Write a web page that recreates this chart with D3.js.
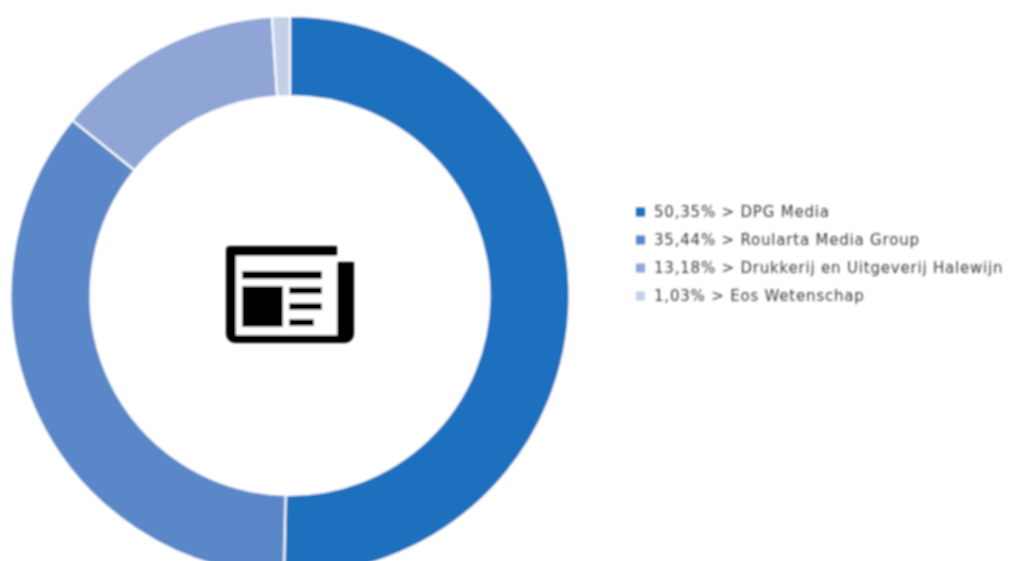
<!DOCTYPE html>
<html><head><meta charset="utf-8">
<script src="https://cdn.jsdelivr.net/npm/d3@7"></script>
<style>html,body{margin:0;background:#fff}svg{display:block}text{font-family:"DejaVu Sans",sans-serif}</style>
</head><body><svg id="c" width="1010" height="561"></svg>
<script>
const names=["DPG Media","Roularta Media Group","Drukkerij en Uitgeverij Halewijn","Eos Wetenschap"];
const values=[50.35,35.44,13.18,1.03];
const colors=["#1f6fbd","#5a87c8","#8fa5d6","#c4cfe8"];
const svg=d3.select("#c");
const defs=svg.append("defs");
const flt=(id,s)=>defs.append("filter").attr("id",id).attr("x","-5%").attr("y","-5%").attr("width","110%").attr("height","110%").append("feGaussianBlur").attr("stdDeviation",s);
flt("b",0.8);flt("t",0.8);
const cx=290,cy=295.5,R=279.5,r=199.5;
const arcs=d3.pie().sort(null)(values);
const arc=d3.arc().innerRadius(r).outerRadius(R);
svg.append("g").attr("transform",`translate(${cx},${cy})`).attr("filter","url(#b)")
 .selectAll("path").data(arcs).join("path").attr("d",arc).attr("fill",(d,i)=>colors[i]).attr("stroke","#fff").attr("stroke-width",2);
const fmt=v=>v.toFixed(2).replace(".",",")+"% > ";
const y=d3.scalePoint().domain(names).range([212,296]);
const lg=svg.append("g").attr("filter","url(#t)");
lg.selectAll("rect").data(names).join("rect").attr("x",636).attr("y",d=>y(d)-4.5).attr("width",9).attr("height",9).attr("fill",(d,i)=>colors[i]);
lg.selectAll("text").data(names).join("text").attr("x",654).attr("y",d=>y(d)+5).attr("font-size",15).attr("letter-spacing",0.8).attr("fill","#3c3c3c")
 .text((d,i)=>fmt(values[i])+d);
const ic=svg.append("g").attr("filter","url(#b)").attr("transform","translate(226,246)");
ic.append("path").attr("fill","#000").attr("d","M4 0H111V16H128V88a9 9 0 0 1-9 9H9a9 9 0 0 1-9-9V4a4 4 0 0 1 4-4Z");
ic.append("rect").attr("x",10).attr("y",10).attr("width",101).attr("height",79).attr("fill","#fff");
[[16,25,80,8],[16,40,41,41],[63,41,33,7],[63,57,33,7],[63,73,25,7]].forEach(a=>ic.append("rect").attr("x",a[0]).attr("y",a[1]).attr("width",a[2]).attr("height",a[3]).attr("fill","#000"));
</script></body></html>
